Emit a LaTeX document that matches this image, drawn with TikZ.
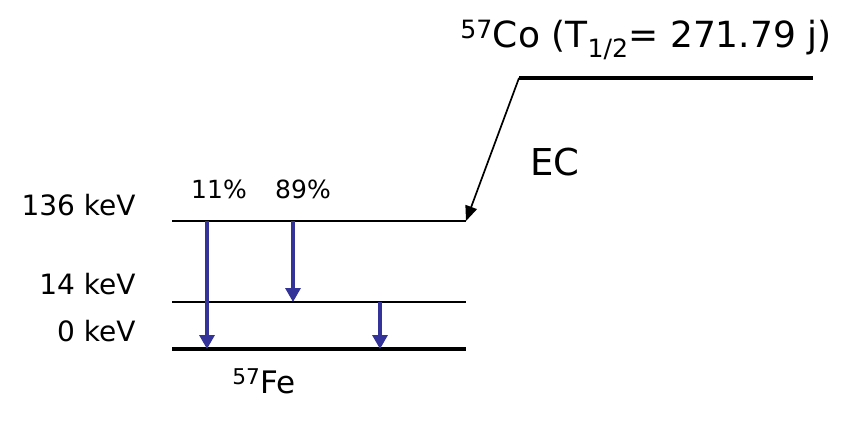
\documentclass[tikz,border=0pt]{standalone}
\usepackage{fontspec}
\setmainfont{DejaVu Sans}
\usepackage{tikz}
\usetikzlibrary{arrows.meta,positioning,calc}
\definecolor{DecayBlue}{HTML}{333399}
\definecolor{DecayInk}{HTML}{000000}
\newcommand{\levelline}[4]{%
  \coordinate (#1w) at (#2,#3);
  \coordinate (#1e) at (466,#3);
  \draw[DecayInk,line width=#4] (#1w) -- (#1e);}

\begin{document}
\begin{tikzpicture}[x=1pt,y=-1pt,>=Triangle]
  \useasboundingbox (0,0) rectangle (866,421);
  \tikzset{
    lvltext/.style={font=\fontsize{28}{31}\selectfont,anchor=east},
    pcttext/.style={font=\fontsize{25}{28}\selectfont},
    gamma/.style={DecayBlue,line width=3.2pt,-{Triangle[length=14pt,width=15pt]}}
  }
  % levels of the daughter
  \levelline{top}{172}{221}{2.6pt}
  \levelline{mid}{172}{302}{2.6pt}
  \levelline{gnd}{172}{349}{4pt}
  % parent level
  \coordinate (cow) at (519,78);
  \coordinate (coe) at (813,78);
  \draw[DecayInk,line width=4pt] (cow) -- (coe);
  \draw[DecayInk,line width=1.7pt,-{Triangle[length=15pt,width=12pt]}] (cow) -- (tope);
  \node[font=\fontsize{36}{40}\selectfont] (parent) at (646,40)
    {\textsuperscript{57}Co (T\textsubscript{1/2}= 271.79 j)};
  \node[font=\fontsize{37}{40}\selectfont] (ec) at (555,162) {EC};
  \node[font=\fontsize{31}{34}\selectfont] (daughter) at (264,381) {\textsuperscript{57}Fe};
  \node[lvltext] (e136) at (139,205) {136 keV};
  \node[lvltext] (e14) at (139,284) {14 keV};
  \node[lvltext] (e0) at (139,331) {0 keV};
  \node[pcttext] (b11) at (219,189) {11\%};
  \node[pcttext] (b89) at (303,189) {89\%};
  % gamma transitions
  \coordinate (g1a) at (207,221);
  \coordinate (g1b) at (207,349);
  \coordinate (g2a) at (293,221);
  \coordinate (g2b) at (293,302);
  \coordinate (g3a) at (380,302);
  \coordinate (g3b) at (380,349);
  \draw[gamma] (g1a) -- (g1b);
  \draw[gamma] (g2a) -- (g2b);
  \draw[gamma] (g3a) -- (g3b);
\end{tikzpicture}
\end{document}
